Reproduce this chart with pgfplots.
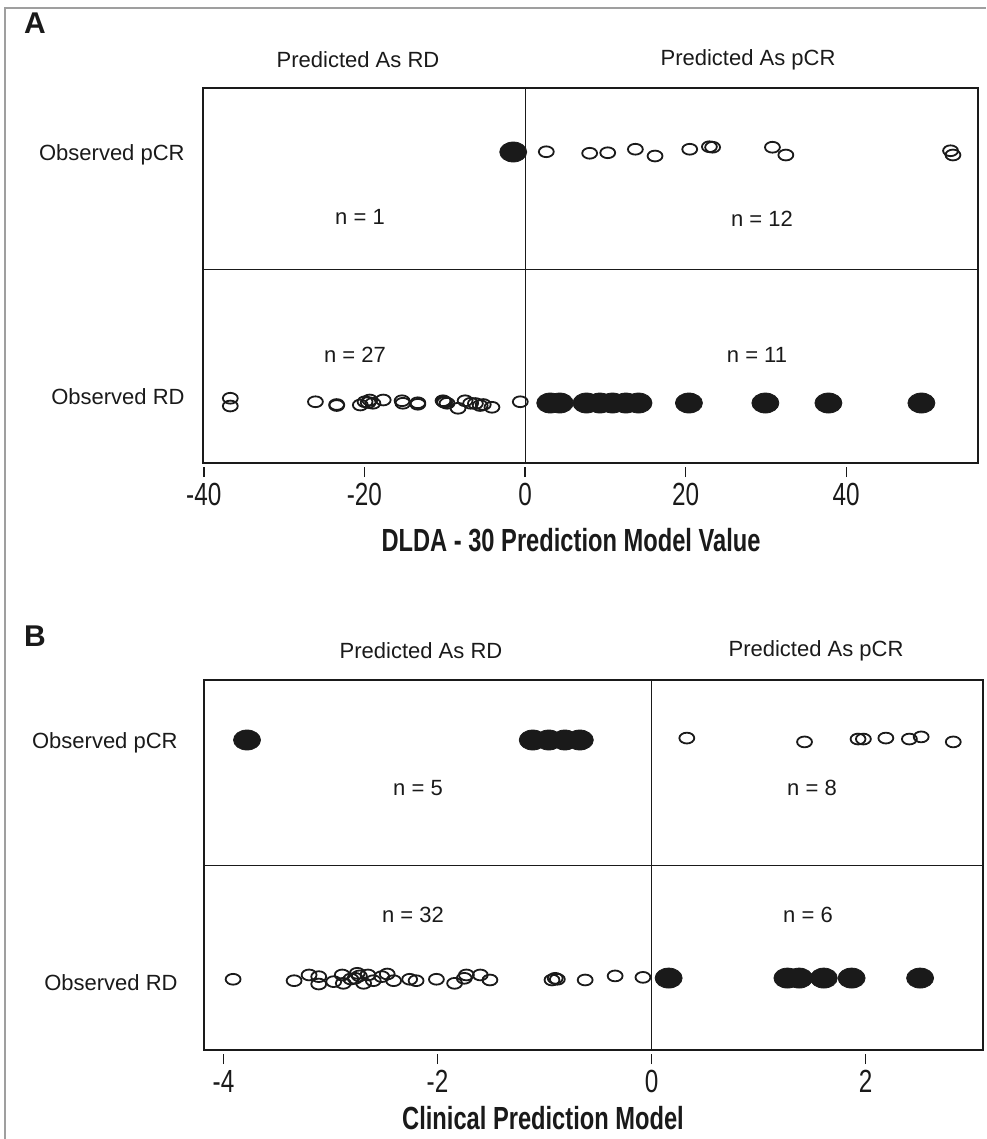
\documentclass[border=0pt]{standalone}
\usepackage{pgfplots}
\pgfplotsset{compat=1.18}
\usepackage{fontspec}
\setmainfont{Liberation Sans}
\newfontfamily\condfont{Liberation Sans}[FakeStretch=0.76]
\newfontfamily\condbold{Liberation Sans}[FakeStretch=0.74]
\definecolor{ink}{HTML}{1A1A1A}
\pgfplotsset{
  myax/.style={
    scale only axis,
    clip=false,
    axis line style={line width=0.7pt, ink},
    ytick=\empty,
    xtick pos=bottom,
    tick align=outside,
    major tick length=5pt,
    xtick style={ink, line width=0.7pt, yshift=-2pt},
    xticklabel style={font=\condfont\fontsize{16}{16}\selectfont, yshift=-1.5pt, text=ink},
    /pgf/number format/assume math mode=true,
  },
  openm/.style={only marks, mark=o, mark size=2.7pt, mark options={xscale=1.38, line width=0.9pt, draw=ink}},
  fillm/.style={only marks, mark=*, mark size=5pt, mark options={xscale=1.35, fill=ink, draw=ink}},
}
\begin{document}
\begin{tikzpicture}
\begin{scope}[x=0.5pt,y=-0.5pt]
\path[use as bounding box] (0,0) rectangle (986,1139);
\draw[gray!75, line width=1pt] (5,1139) -- (5,8) -- (986,8);
\end{scope}

% ---------------- Panel A ----------------
\begin{axis}[myax,
  at={(101.5pt,-231.5pt)}, anchor=south west,
  width=387.5pt, height=187.5pt,
  xmin=-40.10, xmax=56.41, ymin=0.761, ymax=2.255,
  xtick={-40,-20,0,20,40}]
\draw[ink, line width=0.5pt] (axis cs:0,0.761) -- (axis cs:0,2.255);
\draw[ink, line width=0.5pt] (axis cs:-40.10,1.530) -- (axis cs:56.41,1.530);
% observed pCR, predicted RD (filled)
\addplot[fillm] coordinates {(-1.47,2.000)};
% observed pCR, predicted pCR (open)
\addplot[openm] coordinates {
(2.65,2.001) (8.05,1.995) (10.30,1.997) (13.74,2.011) (16.19,1.984) (20.51,2.011)
(22.96,2.021) (23.36,2.019) (30.81,2.019) (32.48,1.988) (52.99,2.005) (53.29,1.988)};
% observed RD, predicted RD (open)
\addplot[openm] coordinates {
(-36.70,1.019) (-36.70,0.988) (-26.10,1.005) (-23.45,0.990) (-23.45,0.994)
(-20.51,0.992) (-19.92,1.005) (-19.53,1.002) (-19.33,1.012) (-18.94,0.999) (-17.66,1.012)
(-15.31,1.009) (-15.21,0.999) (-13.35,1.001) (-13.35,0.995)
(-10.21,1.009) (-10.11,1.006) (-10.01,1.003) (-9.71,0.999) (-8.34,0.979) (-7.46,1.009)
(-6.77,0.999) (-6.18,0.998) (-5.59,0.990) (-5.20,0.994) (-4.12,0.983) (-0.59,1.005)};
% observed RD, predicted pCR (filled)
\addplot[fillm] coordinates {
(3.14,1) (4.32,1) (7.65,1) (9.32,1) (10.89,1) (12.56,1) (14.13,1) (20.41,1) (29.93,1) (37.78,1) (49.36,1)};
\end{axis}

% ---------------- Panel B ----------------
\begin{axis}[myax,
  at={(102pt,-525pt)}, anchor=south west,
  width=389.5pt, height=185pt,
  xmin=-4.182, xmax=3.098, ymin=0.703, ymax=2.251,
  xtick={-4,-2,0,2}]
\draw[ink, line width=0.5pt] (axis cs:0,0.703) -- (axis cs:0,2.251);
\draw[ink, line width=0.5pt] (axis cs:-4.182,1.477) -- (axis cs:3.098,1.477);
\addplot[fillm] coordinates {(-3.78,2) (-1.11,2) (-0.96,2) (-0.81,2) (-0.67,2)};
\addplot[openm] coordinates {
(0.33,2.008) (1.43,1.992) (1.93,2.004) (1.98,2.004) (2.19,2.008) (2.41,2.004) (2.52,2.013) (2.82,1.992)};
\addplot[openm] coordinates {
(-3.91,0.999) (-3.34,0.993) (-3.20,1.017) (-3.11,1.010) (-3.11,0.979) (-2.97,0.989)
(-2.89,1.017) (-2.88,0.982) (-2.81,1.000) (-2.77,1.003) (-2.75,1.024) (-2.73,1.013) (-2.69,0.982)
(-2.65,1.017) (-2.60,0.993) (-2.52,1.010) (-2.47,1.021) (-2.41,0.993) (-2.26,0.999)
(-2.20,0.993) (-2.01,0.999) (-1.84,0.982) (-1.75,1.003) (-1.73,1.017) (-1.60,1.017)
(-1.51,0.996) (-0.93,0.996) (-0.90,1.003) (-0.88,0.999) (-0.62,0.996) (-0.34,1.013) (-0.08,1.007)};
\addplot[fillm] coordinates {(0.16,1.004) (1.27,1.004) (1.38,1.004) (1.61,1.004) (1.87,1.004) (2.51,1.004)};
\end{axis}

\begin{scope}[x=0.5pt,y=-0.5pt, every node/.style={text=ink, inner sep=0pt}]
\node[font=\bfseries\fontsize{15}{15}\selectfont] at (35,23) {A};
\node[font=\fontsize{11}{11}\selectfont] at (358,60) {Predicted As RD};
\node[font=\fontsize{11}{11}\selectfont] at (748,60) {Predicted As pCR};
\node[font=\fontsize{11}{11}\selectfont, anchor=east] at (185,155) {Observed pCR};
\node[font=\fontsize{11}{11}\selectfont, anchor=east] at (185,397) {Observed RD};
\node[font=\fontsize{11}{11}\selectfont] at (360,217) {n = 1};
\node[font=\fontsize{11}{11}\selectfont] at (762,219) {n = 12};
\node[font=\fontsize{11}{11}\selectfont] at (355,355) {n = 27};
\node[font=\fontsize{11}{11}\selectfont] at (757,355) {n = 11};
\node[font=\condbold\bfseries\fontsize{16}{16}\selectfont] at (571,540) {DLDA - 30 Prediction Model Value};

\node[font=\bfseries\fontsize{15}{15}\selectfont] at (35,636) {B};
\node[font=\fontsize{11}{11}\selectfont] at (421,651) {Predicted As RD};
\node[font=\fontsize{11}{11}\selectfont] at (816,651) {Predicted As pCR};
\node[font=\fontsize{11}{11}\selectfont, anchor=east] at (178,743) {Observed pCR};
\node[font=\fontsize{11}{11}\selectfont, anchor=east] at (178,983) {Observed RD};
\node[font=\fontsize{11}{11}\selectfont] at (418,788) {n = 5};
\node[font=\fontsize{11}{11}\selectfont] at (812,788) {n = 8};
\node[font=\fontsize{11}{11}\selectfont] at (413,915) {n = 32};
\node[font=\fontsize{11}{11}\selectfont] at (808,915) {n = 6};
\node[font=\condbold\bfseries\fontsize{16}{16}\selectfont] at (543,1118) {Clinical Prediction Model};
\end{scope}
\end{tikzpicture}
\end{document}
